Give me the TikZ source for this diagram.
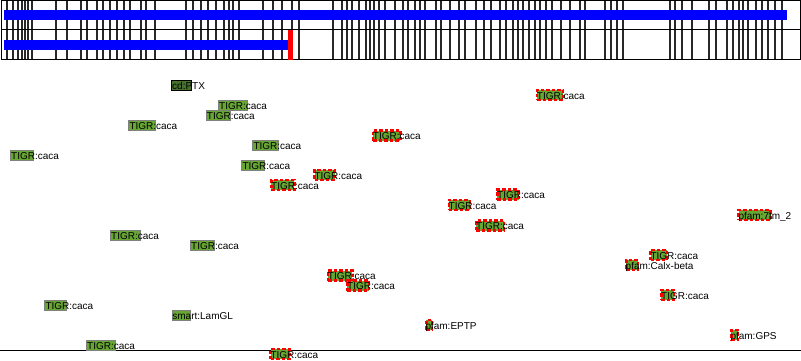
\documentclass[tikz,border=0pt]{standalone}
\usepackage{fontspec}
\setmainfont{Liberation Sans}
\definecolor{featgreen}{RGB}{104,166,52}
\definecolor{darkgreen}{RGB}{70,112,44}
\definecolor{tickgray}{RGB}{40,40,40}
\begin{document}
\begin{tikzpicture}[x=1pt, y=-1pt]
			\tikzset{box/.style={anchor=west, inner sep=0pt, minimum height=10pt, fill=featgreen, draw=gray, line width=0.8pt},
			hit/.style={box, draw=red, line width=2.6pt, dash pattern=on 3.5pt off 2pt},
			known/.style={box, fill=darkgreen, draw=black},
			lbl/.style={anchor=base west, inner sep=0pt, font=\fontsize{10}{12}\selectfont},
			vline/.style={draw=tickgray, line width=1.1pt}};

			\useasboundingbox (0,0) rectangle (801,361);

			% track ruler
			\foreach \x in {7,13,18,22,25,28,32,56,67,81,87,97,103,110,117,124,130,141,146,155,186,193,
				201,208,216,224,229,233,239,263,273,282,292,299,333,342,347,352,359,366,370,374,379,385,395,
				403,408,415,420,425,436,441,450,459,465,476,484,491,500,506,513,518,523,529,535,540,546,552,
				561,570,580,585,605,611,617,623,670,675,682,692,709,716,727,733,739,743,748,756,762,768,775,782}
				\draw[vline] (\x,1) -- (\x,60);
			\draw[line width=1pt] (1,1) rectangle (800,60);
			\draw[line width=1pt] (1,30) -- (800,30);
			\fill[blue] (4,10) rectangle (787,20.5);
			\fill[blue] (4,40) rectangle (289,50.5);
			\fill[red] (288.3,30) rectangle (292.7,60.5);
			\draw[line width=1pt] (0,350) -- (801,350);

			% features
			\node[known, minimum width=20.5pt] (b0) at (170.5,85.5) {};
			\node[lbl] (l0) at ([xshift=1.5pt, yshift=-4.2pt]b0.west) {cd:PTX};
			\node[box, minimum width=28.5pt] (b1) at (218,105.3) {};
			\node[lbl] (l1) at ([xshift=1pt, yshift=-4.2pt]b1.west) {TIGR:caca};
			\node[box, minimum width=24pt] (b2) at (205.7,115.7) {};
			\node[lbl] (l2) at ([xshift=1pt, yshift=-4.2pt]b2.west) {TIGR:caca};
			\node[box, minimum width=26.3pt] (b3) at (128.3,125.7) {};
			\node[lbl] (l3) at ([xshift=1pt, yshift=-4.2pt]b3.west) {TIGR:caca};
			\node[box, minimum width=26pt] (b4) at (252.3,145.7) {};
			\node[lbl] (l4) at ([xshift=1pt, yshift=-4.2pt]b4.west) {TIGR:caca};
			\node[box, minimum width=23.3pt] (b5) at (10,155.7) {};
			\node[lbl] (l5) at ([xshift=1pt, yshift=-4.2pt]b5.west) {TIGR:caca};
			\node[box, minimum width=22.7pt] (b6) at (241.3,165.7) {};
			\node[lbl] (l6) at ([xshift=1pt, yshift=-4.2pt]b6.west) {TIGR:caca};
			\node[hit, minimum width=23pt] (b7) at (270,185) {};
			\node[lbl] (l7) at ([xshift=1pt, yshift=-4.2pt]b7.west) {TIGR:caca};
			\node[hit, minimum width=26pt] (b8) at (535.7,95) {};
			\node[lbl] (l8) at ([xshift=1pt, yshift=-4.2pt]b8.west) {TIGR:caca};
			\node[hit, minimum width=27.3pt] (b9) at (371.7,135.5) {};
			\node[lbl] (l9) at ([xshift=1pt, yshift=-4.2pt]b9.west) {TIGR:caca};
			\node[hit, minimum width=20pt] (b10) at (313.3,175) {};
			\node[lbl] (l10) at ([xshift=1pt, yshift=-4.2pt]b10.west) {TIGR:caca};
			\node[hit, minimum width=21.3pt] (b11) at (496,194.7) {};
			\node[lbl] (l11) at ([xshift=1pt, yshift=-4.2pt]b11.west) {TIGR:caca};
			\node[hit, minimum width=21pt] (b12) at (447.5,205) {};
			\node[lbl] (l12) at ([xshift=1pt, yshift=-4.2pt]b12.west) {TIGR:caca};
			\node[hit, minimum width=27.7pt] (b13) at (475,225.5) {};
			\node[lbl] (l13) at ([xshift=1pt, yshift=-4.2pt]b13.west) {TIGR:caca};
			\node[hit, minimum width=32pt] (b14) at (737.3,215) {};
			\node[lbl] (l14) at ([xshift=1pt, yshift=-4.2pt]b14.west) {pfam:7tm\_2};
			\node[box, minimum width=30pt] (b15) at (110,235.3) {};
			\node[lbl] (l15) at ([xshift=1pt, yshift=-4.2pt]b15.west) {TIGR:caca};
			\node[box, minimum width=24.3pt] (b16) at (190,245.3) {};
			\node[lbl] (l16) at ([xshift=1pt, yshift=-4.2pt]b16.west) {TIGR:caca};
			\node[hit, minimum width=16.4pt] (b17) at (649.3,255) {};
			\node[lbl] (l17) at ([xshift=1pt, yshift=-4.2pt]b17.west) {TIGR:caca};
			\node[hit, minimum width=11.7pt] (b18) at (625,265) {};
			\node[lbl] (l18) at ([xshift=0.5pt, yshift=-4.2pt]b18.west) {pfam:Calx-beta};
			\node[hit, minimum width=24.3pt] (b19) at (326.7,275.5) {};
			\node[lbl] (l19) at ([xshift=1pt, yshift=-4.2pt]b19.west) {TIGR:caca};
			\node[hit, minimum width=21.7pt] (b20) at (346,285.5) {};
			\node[lbl] (l20) at ([xshift=1pt, yshift=-4.2pt]b20.west) {TIGR:caca};
			\node[hit, minimum width=12.7pt] (b21) at (660,295) {};
			\node[lbl] (l21) at ([xshift=1pt, yshift=-4.2pt]b21.west) {TIGR:caca};
			\node[box, minimum width=21.3pt] (b22) at (44.3,305.3) {};
			\node[lbl] (l22) at ([xshift=1pt, yshift=-4.2pt]b22.west) {TIGR:caca};
			\node[box, minimum width=18.3pt] (b23) at (171.7,315.3) {};
			\node[lbl] (l23) at ([xshift=0.5pt, yshift=-4.2pt]b23.west) {smart:LamGL};
			\node[hit, minimum width=5.7pt] (b24) at (425,325) {};
			\node[lbl] (l24) at ([xshift=0.3pt, yshift=-4.2pt]b24.west) {pfam:EPTP};
			\node[hit, minimum width=6.7pt] (b25) at (730,335) {};
			\node[lbl] (l25) at ([xshift=0.3pt, yshift=-4.2pt]b25.west) {pfam:GPS};
			\node[box, minimum width=29pt] (b26) at (86,345.3) {};
			\node[lbl] (l26) at ([xshift=1pt, yshift=-4.2pt]b26.west) {TIGR:caca};
			\node[hit, minimum width=19pt] (b27) at (269.3,354) {};
			\node[lbl] (l27) at ([xshift=1pt, yshift=-4.2pt]b27.west) {TIGR:caca};
		\end{tikzpicture}
\end{document}
